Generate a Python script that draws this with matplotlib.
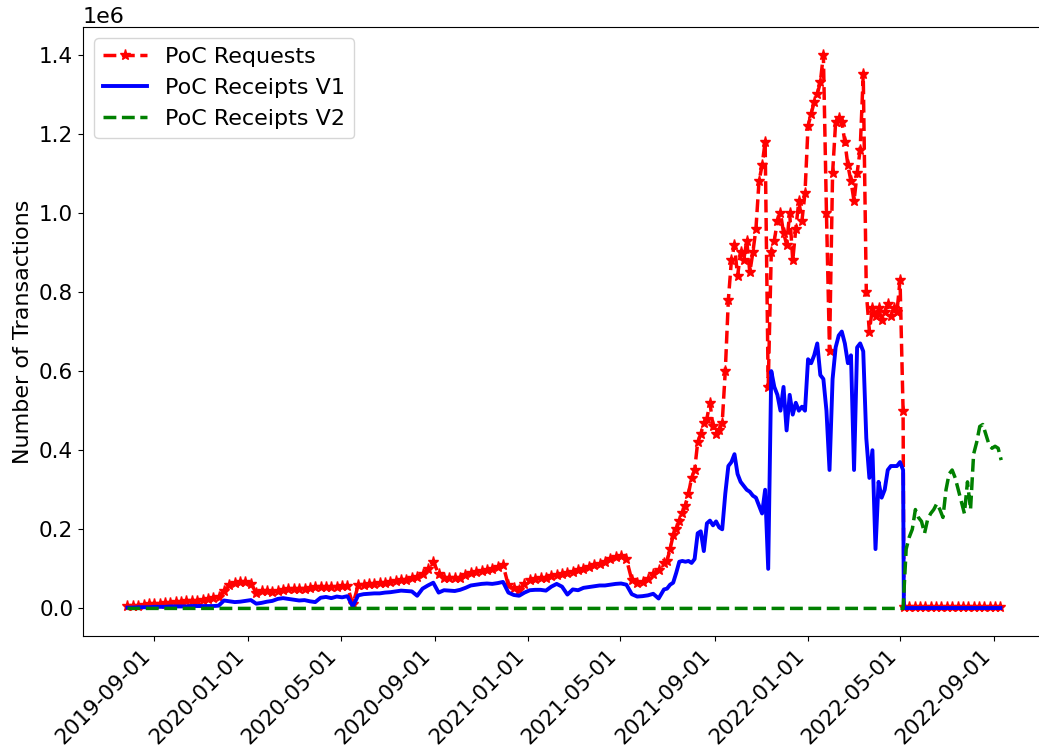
import numpy as np
import pandas as pd
import matplotlib
matplotlib.use('Agg')
import matplotlib.pyplot as plt
import matplotlib.dates as mdates

# values in millions of transactions
# weekly samples 2019-07-28 .. 2021-06-27
dates_a = pd.date_range('2019-07-28', '2021-06-27', freq='7D')
requests_a = [0.005, 0.006, 0.007, 0.008, 0.010, 0.011, 0.012, 0.013, 0.014, 0.015,
              0.017, 0.018, 0.019, 0.020, 0.022, 0.024, 0.026, 0.030, 0.045, 0.060,
              0.064, 0.066, 0.068, 0.062, 0.040, 0.045, 0.043, 0.042, 0.045, 0.047,
              0.048, 0.048, 0.050, 0.050, 0.051, 0.053, 0.054, 0.054, 0.055, 0.055,
              0.056, 0.056, 0.010, 0.058, 0.060, 0.061, 0.062, 0.063, 0.065, 0.067,
              0.069, 0.071, 0.073, 0.076, 0.080, 0.088, 0.100, 0.118, 0.088, 0.078,
              0.076, 0.076, 0.078, 0.085, 0.090, 0.093, 0.095, 0.098, 0.100, 0.105,
              0.110, 0.058, 0.052, 0.047, 0.062, 0.072, 0.075, 0.077, 0.078, 0.082,
              0.085, 0.088, 0.090, 0.092, 0.096, 0.100, 0.105, 0.110, 0.113, 0.118,
              0.125, 0.130, 0.132, 0.125, 0.072, 0.064, 0.066, 0.075, 0.088, 0.098,
              0.115]
receipts_v1_a = [0.002, 0.002, 0.003, 0.003, 0.003, 0.004, 0.004, 0.004, 0.005, 0.005,
                 0.005, 0.005, 0.006, 0.006, 0.006, 0.006, 0.006, 0.007, 0.020, 0.018,
                 0.016, 0.017, 0.019, 0.021, 0.012, 0.014, 0.017, 0.019, 0.024, 0.026,
                 0.024, 0.022, 0.020, 0.021, 0.018, 0.016, 0.027, 0.029, 0.026, 0.030,
                 0.028, 0.031, 0.005, 0.033, 0.036, 0.037, 0.038, 0.038, 0.040, 0.041,
                 0.043, 0.045, 0.044, 0.043, 0.032, 0.050, 0.058, 0.065, 0.040, 0.046,
                 0.045, 0.044, 0.047, 0.052, 0.058, 0.060, 0.062, 0.063, 0.062, 0.064,
                 0.067, 0.040, 0.034, 0.032, 0.040, 0.046, 0.047, 0.047, 0.045, 0.055,
                 0.062, 0.055, 0.035, 0.048, 0.046, 0.052, 0.054, 0.056, 0.058, 0.058,
                 0.060, 0.062, 0.063, 0.060, 0.036, 0.030, 0.031, 0.033, 0.037, 0.025,
                 0.048]

# every 4 days 2021-07-01 .. 2022-05-05
dates_b = pd.date_range('2021-07-01', periods=78, freq='4D')
requests_b = [0.120, 0.150, 0.185, 0.200, 0.220, 0.240, 0.260, 0.290, 0.330, 0.350,
              0.420, 0.440, 0.470, 0.480, 0.520, 0.460, 0.440, 0.450, 0.470, 0.600,
              0.780, 0.880, 0.920, 0.840, 0.900, 0.880, 0.930, 0.850, 0.900, 0.960,
              1.080, 1.120, 1.180, 0.560, 0.900, 0.930, 0.980, 1.000, 0.950, 0.920,
              1.000, 0.880, 0.960, 1.030, 0.980, 1.050, 1.220, 1.250, 1.280, 1.300,
              1.330, 1.400, 1.000, 0.650, 1.100, 1.230, 1.240, 1.230, 1.180, 1.120,
              1.080, 1.030, 1.100, 1.160, 1.350, 0.800, 0.700, 0.760, 0.740, 0.760,
              0.730, 0.750, 0.770, 0.740, 0.760, 0.750, 0.830, 0.500]
receipts_v1_b = [0.050, 0.060, 0.065, 0.090, 0.118, 0.120, 0.118, 0.120, 0.115, 0.125,
                 0.190, 0.195, 0.145, 0.215, 0.222, 0.210, 0.220, 0.205, 0.200, 0.290,
                 0.360, 0.370, 0.390, 0.340, 0.320, 0.310, 0.300, 0.295, 0.285, 0.280,
                 0.260, 0.240, 0.300, 0.100, 0.600, 0.560, 0.540, 0.500, 0.560, 0.450,
                 0.540, 0.490, 0.520, 0.500, 0.510, 0.500, 0.630, 0.620, 0.640, 0.670,
                 0.590, 0.580, 0.500, 0.350, 0.580, 0.660, 0.690, 0.700, 0.670, 0.620,
                 0.640, 0.350, 0.660, 0.670, 0.650, 0.430, 0.330, 0.400, 0.150, 0.320,
                 0.280, 0.300, 0.350, 0.360, 0.360, 0.360, 0.370, 0.350]

# weekly after the switch to V2
dates_c = pd.date_range('2022-05-06', periods=19, freq='7D')
requests_c = [0.003, 0.003, 0.003, 0.003, 0.003, 0.003, 0.003, 0.003, 0.003, 0.003,
              0.003, 0.003, 0.003, 0.003, 0.003, 0.003, 0.003, 0.003, 0.003]
receipts_v1_c = [0.001, 0.001, 0.001, 0.001, 0.001, 0.001, 0.001, 0.001, 0.001, 0.001,
                 0.001, 0.001, 0.001, 0.001, 0.001, 0.001, 0.001, 0.001, 0.001]

# receipts v2: zero until May 2022, then every 4 days
v2_dates = pd.DatetimeIndex(['2019-07-28']).append(
    pd.date_range('2022-05-05', periods=33, freq='4D'))
receipts_v2 = [0.0,
               0.0, 0.150, 0.180, 0.200, 0.250, 0.230, 0.220, 0.190, 0.225, 0.240,
               0.250, 0.265, 0.250, 0.230, 0.300, 0.340, 0.350, 0.330, 0.300, 0.270,
               0.240, 0.320, 0.250, 0.390, 0.420, 0.460, 0.465, 0.440, 0.415, 0.405,
               0.410, 0.405, 0.375]

dates = dates_a.append(dates_b).append(dates_c)
requests = np.array(requests_a + requests_b + requests_c) * 1e6
receipts_v1 = np.array(receipts_v1_a + receipts_v1_b + receipts_v1_c) * 1e6
receipts_v2 = np.array(receipts_v2) * 1e6

fig = plt.figure(figsize=(10.39, 7.51), dpi=100)
ax = fig.add_axes([0.0799, 0.153, 0.9265, 0.811])

ax.plot(dates, requests, 'r*--', lw=2.5, ms=8, label='PoC Requests')
ax.plot(dates, receipts_v1, 'b-', lw=2.8, label='PoC Receipts V1')
ax.plot(v2_dates, receipts_v2, 'g--', lw=2.5, label='PoC Receipts V2')

ax.set_xlim(pd.Timestamp('2019-05-31'), pd.Timestamp('2022-11-07'))
ax.set_ylim(-0.07e6, 1.47e6)
ax.xaxis.set_major_locator(mdates.MonthLocator(bymonth=[1, 5, 9]))
ax.xaxis.set_major_formatter(mdates.DateFormatter('%Y-%m-%d'))
plt.setp(ax.get_xticklabels(), rotation=45, ha='right')
ax.tick_params(labelsize=15.5)
ax.yaxis.get_offset_text().set_fontsize(16)
ax.set_ylabel('Number of Transactions', fontsize=16)
ax.legend(loc='upper left', fontsize=16)

fig.savefig('out.png', dpi=100)
